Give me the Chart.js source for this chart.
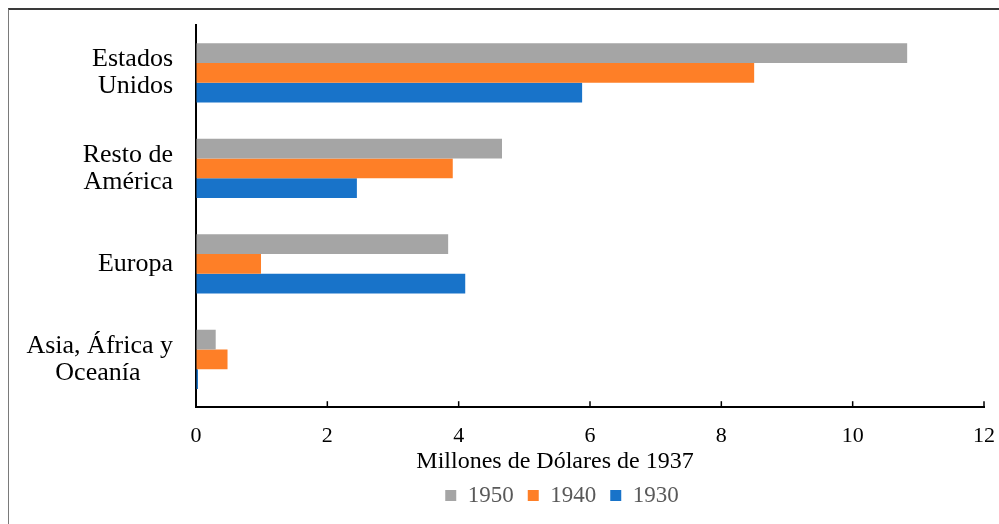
<!DOCTYPE html>
<html lang="es">
<head>
<meta charset="utf-8">
<title>Millones de Dólares de 1937</title>
<script src="https://cdn.jsdelivr.net/npm/chart.js@4/dist/chart.umd.min.js"></script>
<style>
    html, body { margin: 0; padding: 0; background: #fff; }
    #wrap { position: relative; width: 999px; height: 524px; overflow: hidden; }
    #frame {
        position: absolute; left: 8px; top: 8px; right: -10px; bottom: -10px;
        border-top: 2px solid #3a3a3a; border-left: 1px solid #7a7a7a;
        pointer-events: none;
    }
    canvas { position: absolute; left: 0; top: 0; }
</style>
</head>
<body>
<div id="wrap">
    <canvas id="chart" width="999" height="524"></canvas>
    <div id="frame"></div>
</div>
<script>
// datos
const categories = [['Estados', 'Unidos'], ['Resto de', 'América'], 'Europa', ['Asia, África y', 'Oceanía     ']];
const years = ['1950', '1940', '1930'];
const values1950 = [10.83, 4.66, 3.84, 0.30];
const values1940 = [8.50, 3.91, 0.99, 0.48];
const values1930 = [5.88, 2.45, 4.10, 0.03];
const xTicks = [0, 2, 4, 6, 8, 10, 12];

const colors = ['#a5a5a5', '#fe7f27', '#1873c9'];
const serif = "'Liberation Serif', 'Times New Roman', serif";

// ticks del eje X hacia adentro + desplazar titulo/leyenda como en el original
const excelLook = {
    id: 'excelLook',
    afterUpdate(chart) {
        const shift = (box, centre) => {
            if (!box) return;
            const d = centre - (box.left + box.right) / 2;
            box.left += d;
            box.right += d;
        };
        shift(chart.titleBlock, 555);
        shift(chart.legend, 562);
    },
    afterDraw(chart) {
        const x = chart.scales.x;
        const ctx = chart.ctx;
        ctx.save();
        ctx.strokeStyle = '#000';
        ctx.lineWidth = 1.5;
        x.ticks.forEach(t => {
            const px = x.getPixelForValue(t.value);
            ctx.beginPath();
            ctx.moveTo(px, x.top);
            ctx.lineTo(px, x.top - 6);
            ctx.stroke();
        });
        ctx.restore();
    }
};

// sin relleno extra por las etiquetas de los extremos
const noEdgePadding = scale => {
    scale.paddingTop = 0;
    scale.paddingBottom = 0;
    scale.paddingLeft = 0;
    scale.paddingRight = 0;
};

const ctx = document.getElementById('chart').getContext('2d');
new Chart(ctx, {
    type: 'bar',
    data: {
        labels: categories,
        datasets: [values1950, values1940, values1930].map((d, i) => ({
            label: years[i],
            data: d,
            backgroundColor: colors[i],
            borderWidth: 0,
            categoryPercentage: 0.62,
            barPercentage: 1
        }))
    },
    options: {
        indexAxis: 'y',
        responsive: false,
        devicePixelRatio: 1,
        animation: false,
        layout: { padding: { left: 0, right: 15, top: 25, bottom: 7 } },
        scales: {
            x: {
                min: 0,
                max: 12,
                afterBuildTicks(scale) {
                    scale.ticks = xTicks.map(v => ({ value: v }));
                },
                afterFit(scale) {
                    noEdgePadding(scale);
                    scale.height -= 12;
                },
                grid: { display: true, drawOnChartArea: false, drawTicks: false },
                border: { display: true, color: '#000', width: 2 },
                ticks: {
                    padding: 18,
                    color: '#000',
                    font: { family: serif, size: 22, lineHeight: 1.0 }
                }
            },
            y: {
                afterFit(scale) {
                    noEdgePadding(scale);
                    scale.width = 196;
                },
                grid: { display: true, drawOnChartArea: false, drawTicks: false },
                border: { display: true, color: '#000', width: 2 },
                ticks: {
                    padding: 23,
                    color: '#000',
                    font: { family: serif, size: 26, lineHeight: 1.04 }
                }
            }
        },
        plugins: {
            title: {
                display: true,
                text: 'Millones de Dólares de 1937',
                position: 'bottom',
                weight: 500,
                color: '#000',
                padding: { top: 0, bottom: 0 },
                font: { family: serif, size: 24, weight: 'normal', lineHeight: 0.7 }
            },
            legend: {
                position: 'bottom',
                labels: {
                    boxWidth: 11,
                    boxHeight: 11,
                    padding: 14,
                    color: '#595959',
                    font: { family: serif, size: 23 }
                }
            },
            tooltip: { enabled: false }
        }
    },
    plugins: [excelLook]
});
</script>
</body>
</html>
